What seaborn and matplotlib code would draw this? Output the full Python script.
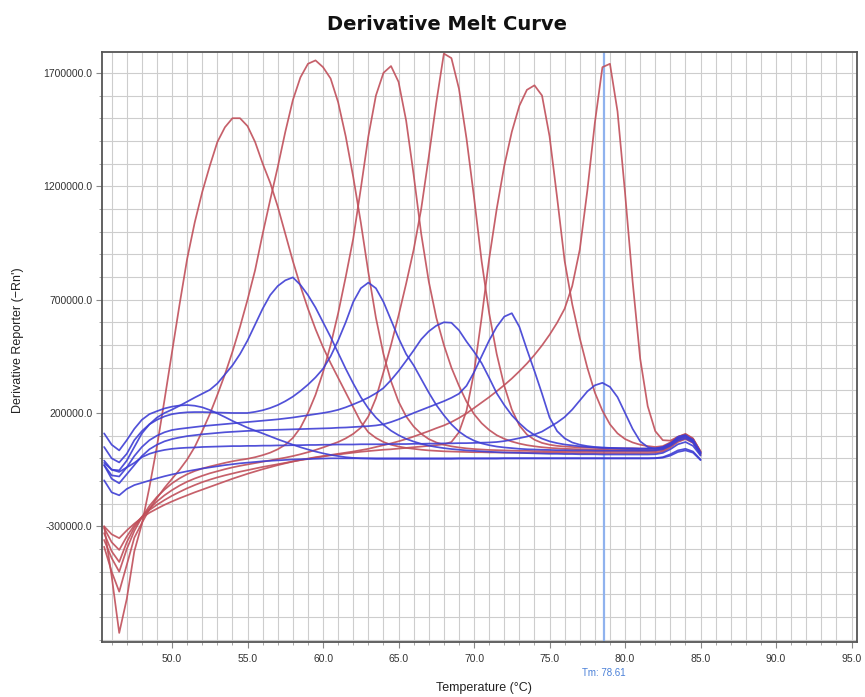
import numpy as np
import pandas as pd
import matplotlib
matplotlib.use("Agg")
import matplotlib.pyplot as plt
import seaborn as sns
from matplotlib.ticker import MultipleLocator, FixedLocator, FuncFormatter

# ---------------- data ----------------
# temperature sampling grid, 45.5 .. 85.0 °C every 0.5 °C
temperature = np.round(np.arange(45.5, 85.01, 0.5), 1)

# derivative reporter values, in thousands of (-Rn') units
red_1 = [-300, -520, -770, -620, -410, -290, -128, 53, 258, 470,
         680, 880, 1040, 1175, 1290, 1395, 1460, 1500, 1500, 1465,
         1395, 1300, 1215, 1110, 990, 870, 760, 660, 570, 490,
         420, 355, 290, 225, 160, 115, 90, 72, 60, 52,
         46, 42, 38, 35, 33, 31, 30, 29, 28, 27,
         27, 26, 26, 25, 25, 25, 24, 24, 24, 24,
         24, 24, 23, 23, 23, 23, 23, 23, 23, 23,
         23, 23, 23, 24, 30, 48, 72, 85, 68, 15]
red_2 = [-390, -500, -588, -470, -350, -285, -225, -175, -130, -90,
         -50, -5, 50, 120, 195, 280, 370, 470, 580, 700,
         830, 990, 1140, 1285, 1440, 1580, 1680, 1740, 1755, 1725,
         1675, 1570, 1420, 1240, 1040, 820, 620, 460, 340, 250,
         185, 140, 108, 85, 70, 60, 53, 48, 44, 41,
         39, 37, 36, 35, 34, 33, 33, 32, 32, 31,
         31, 31, 30, 30, 30, 30, 30, 30, 30, 30,
         30, 30, 30, 31, 36, 55, 80, 92, 75, 20]
red_3 = [-360, -440, -500, -400, -320, -260, -210, -170, -138, -110,
         -88, -70, -56, -45, -36, -28, -20, -13, -7, -2,
         5, 14, 25, 40, 60, 90, 135, 200, 280, 380,
         500, 640, 800, 970, 1190, 1420, 1600, 1700, 1730, 1660,
         1490, 1250, 990, 780, 620, 500, 400, 320, 250, 195,
         155, 125, 102, 86, 74, 65, 58, 53, 49, 46,
         44, 42, 41, 40, 39, 38, 38, 37, 37, 37,
         37, 36, 36, 37, 42, 60, 85, 98, 80, 25]
red_4 = [-330, -410, -457, -370, -305, -260, -222, -190, -163, -140,
         -120, -103, -89, -77, -66, -57, -48, -40, -33, -27,
         -21, -15, -9, -3, 3, 10, 18, 27, 37, 48,
         60, 72, 88, 108, 135, 185, 265, 380, 500, 630,
         770, 920, 1100, 1330, 1570, 1785, 1765, 1630, 1410, 1150,
         870, 640, 460, 320, 215, 145, 105, 82, 68, 60,
         55, 52, 50, 48, 47, 46, 45, 45, 44, 44,
         44, 43, 43, 44, 50, 68, 92, 105, 85, 28]
red_5 = [-307, -370, -404, -345, -295, -258, -228, -205, -184, -165,
         -148, -132, -118, -105, -94, -84, -75, -67, -59, -52,
         -45, -38, -32, -26, -20, -14, -8, -3, 3, 8,
         13, 17, 21, 25, 29, 32, 35, 38, 40, 43,
         46, 49, 52, 55, 58, 62, 72, 115, 210, 380,
         620, 880, 1100, 1290, 1440, 1555, 1625, 1645, 1600, 1420,
         1150, 870, 680, 530, 400, 290, 210, 150, 110, 85,
         70, 60, 54, 50, 54, 70, 95, 108, 88, 30]
red_6 = [-300, -335, -352, -318, -288, -262, -240, -222, -205, -190,
         -176, -163, -150, -138, -126, -114, -102, -90, -79, -68,
         -58, -48, -39, -30, -22, -14, -7, -1, 5, 10,
         15, 20, 25, 30, 36, 42, 50, 58, 66, 75,
         85, 96, 108, 120, 133, 145, 160, 178, 198, 222,
         246, 270, 296, 323, 352, 384, 418, 456, 498, 545,
         598, 660, 760, 920, 1180, 1480, 1725, 1740, 1530, 1170,
         780, 440, 230, 120, 80, 78, 95, 105, 85, 30]

blue_a = [110, 60, 35, 80, 130, 170, 195, 208, 220, 228,
          233, 235, 232, 225, 213, 198, 182, 165, 150, 135,
          122, 110, 97, 84, 72, 60, 49, 39, 30, 22,
          15, 10, 5, 2, 0, -1, -2, -2, -2, -2,
          -2, -2, -2, -2, -2, -2, -2, -1, -1, -1,
          -1, -1, -1, 0, 0, 0, 0, 0, 0, 0,
          0, 0, 0, 0, 0, 0, 0, 0, 0, 0,
          0, 0, 0, 1, 5, 18, 35, 42, 30, -5]
blue_low = [-97, -150, -163, -135, -118, -108, -98, -88, -79, -71,
            -64, -57, -51, -45, -40, -35, -30, -26, -22, -19,
            -16, -13, -11, -9, -7, -5, -4, -3, -2, -1,
            0, 0, 0, 0, 0, 0, 0, 0, 0, 0,
            0, 0, 0, 0, 0, 0, 0, 0, 0, 0,
            0, 0, 0, 0, 0, 0, 0, 0, 0, 0,
            0, 0, 0, 0, 0, 0, 0, 0, 0, 0,
            0, 0, 0, 0, 3, 12, 28, 35, 25, -8]
blue_1 = [-20, -50, -53, -10, 50, 110, 150, 180, 200, 215,
          232, 250, 268, 285, 302, 330, 370, 410, 460, 520,
          590, 660, 720, 760, 785, 798, 765, 720, 665, 600,
          535, 465, 395, 330, 270, 220, 180, 148, 122, 102,
          86, 74, 64, 56, 50, 45, 41, 38, 35, 33,
          31, 29, 27, 26, 25, 24, 23, 22, 21, 20,
          20, 19, 19, 18, 18, 18, 17, 17, 17, 17,
          17, 17, 17, 18, 24, 40, 62, 72, 55, 12]
blue_2 = [50, 0, -18, 20, 80, 120, 150, 170, 185, 195,
          200, 203, 204, 204, 203, 202, 201, 200, 200, 200,
          205, 212, 222, 235, 252, 272, 297, 325, 357, 395,
          450, 520, 600, 690, 750, 775, 750, 690, 610, 530,
          460, 410, 350, 290, 235, 190, 150, 118, 95, 78,
          66, 58, 52, 48, 45, 42, 40, 39, 38, 37,
          36, 36, 35, 35, 35, 34, 34, 34, 34, 34,
          34, 34, 34, 35, 40, 55, 78, 88, 70, 20]
blue_3 = [-30, -75, -80, -40, 10, 50, 80, 100, 115, 125,
          130, 134, 138, 142, 145, 148, 151, 154, 157, 160,
          163, 166, 169, 172, 176, 180, 185, 190, 195, 200,
          206, 214, 225, 238, 252, 268, 287, 310, 345, 385,
          430, 476, 525, 560, 585, 600, 598, 565, 515, 470,
          420, 355, 287, 235, 190, 155, 125, 103, 87, 75,
          67, 61, 57, 53, 50, 48, 46, 45, 44, 43,
          42, 42, 42, 43, 48, 62, 85, 95, 78, 25]
blue_4 = [-30, -90, -110, -70, -30, 10, 40, 60, 75, 85,
          92, 98, 102, 106, 109, 112, 115, 117, 119, 121,
          122, 124, 125, 126, 127, 128, 129, 130, 131, 132,
          133, 135, 136, 138, 140, 142, 145, 150, 160, 172,
          186, 200, 213, 226, 239, 252, 267, 285, 320, 380,
          450, 520, 580, 625, 640, 580, 480, 385, 285, 180,
          120, 88, 70, 60, 54, 50, 48, 46, 45, 44,
          44, 43, 43, 44, 50, 66, 90, 100, 82, 25]
blue_5 = [-10, -50, -60, -40, -20, 5, 20, 30, 37, 42,
          45, 47, 48, 50, 51, 52, 53, 54, 54, 55,
          55, 56, 56, 57, 57, 58, 58, 59, 59, 60,
          60, 61, 61, 61, 62, 62, 62, 62, 63, 63,
          63, 64, 64, 65, 65, 66, 66, 67, 67, 68,
          69, 70, 72, 76, 82, 89, 96, 105, 118, 138,
          158, 182, 215, 255, 295, 322, 333, 315, 270, 200,
          130, 75, 50, 42, 45, 62, 95, 103, 75, 20]

red_names = ["red_1", "red_2", "red_3", "red_4", "red_5", "red_6"]
red_series = [red_1, red_2, red_3, red_4, red_5, red_6]
blue_names = ["blue_a", "blue_low", "blue_1", "blue_2", "blue_3", "blue_4", "blue_5"]
blue_series = [blue_a, blue_low, blue_1, blue_2, blue_3, blue_4, blue_5]

tm_value = 78.61
x_ticks = [50, 55, 60, 65, 70, 75, 80, 85, 90, 95]
y_ticks = [-300000, 200000, 700000, 1200000, 1700000]


def long_table(names, series):
    frames = []
    for n, s in zip(names, series):
        assert len(s) == len(temperature), (n, len(s))
        frames.append(pd.DataFrame({"Temperature": temperature,
                                    "Value": np.asarray(s, float) * 1000.0,
                                    "Curve": n}))
    return pd.concat(frames, ignore_index=True)


df_red = long_table(red_names, red_series)
df_blue = long_table(blue_names, blue_series)

# ---------------- drawing ----------------
sns.set_theme(style="white")
plt.rcParams["font.family"] = ["Liberation Sans", "DejaVu Sans"]

W, H = 865, 697
fig = plt.figure(figsize=(W / 100, H / 100), dpi=100)
ax = fig.add_axes([102 / W, 1 - 642 / H, 755 / W, 590 / H])

red_col = "#c04f5a"
blue_col = "#3e3ed4"

sns.lineplot(data=df_red, x="Temperature", y="Value", hue="Curve",
             palette={n: red_col for n in red_names}, estimator=None,
             sort=False, legend=False, linewidth=1.25, alpha=0.9, ax=ax)
sns.lineplot(data=df_blue, x="Temperature", y="Value", hue="Curve",
             palette={n: blue_col for n in blue_names}, estimator=None,
             sort=False, legend=False, linewidth=1.25, alpha=0.9, ax=ax)

ax.axvline(tm_value, color="#8fb2ee", lw=1.6, zorder=1)

ax.set_xlim(45.36, 95.36)
ax.set_ylim(-810000, 1792000)

ax.xaxis.set_major_locator(FixedLocator(x_ticks))
ax.xaxis.set_minor_locator(MultipleLocator(1))
ax.yaxis.set_major_locator(FixedLocator(y_ticks))
ax.yaxis.set_minor_locator(MultipleLocator(100000))
fmt = FuncFormatter(lambda v, p: f"{v:.1f}")
ax.xaxis.set_major_formatter(fmt)
ax.yaxis.set_major_formatter(fmt)

ax.grid(which="both", color="#cdcdcd", linewidth=0.8)
ax.set_axisbelow(True)
ax.tick_params(which="major", direction="out", length=4, width=0.8,
               color="#888888", labelsize=7.5, labelcolor="#333333", pad=3)
ax.tick_params(which="minor", direction="out", length=2, width=0.6,
               color="#999999")
ax.tick_params(axis="x", which="major", pad=5)
ax.tick_params(left=True, bottom=True, which="both")
for sp in ax.spines.values():
    sp.set_color("#555555")
    sp.set_linewidth(1.3)

ax.set_xlabel("")
ax.set_ylabel("")

ax.text(tm_value, -0.053, f"Tm: {tm_value:.2f}", transform=ax.get_xaxis_transform(),
        ha="center", va="center", fontsize=7, color="#4a80d8")

fig.text(447 / W, 1 - 25 / H, "Derivative Melt Curve", ha="center", va="center",
         fontsize=14, fontweight="bold", family=["DejaVu Sans"], color="#111111")
fig.text(484 / W, 1 - 688 / H, "Temperature (\u00b0C)", ha="center", va="center",
         fontsize=9, color="#222222")
fig.text(18 / W, 1 - 340 / H, "Derivative Reporter (\u2212Rn')", ha="center",
         va="center", rotation=90, fontsize=9, color="#222222")

fig.savefig("out.png", dpi=100)
